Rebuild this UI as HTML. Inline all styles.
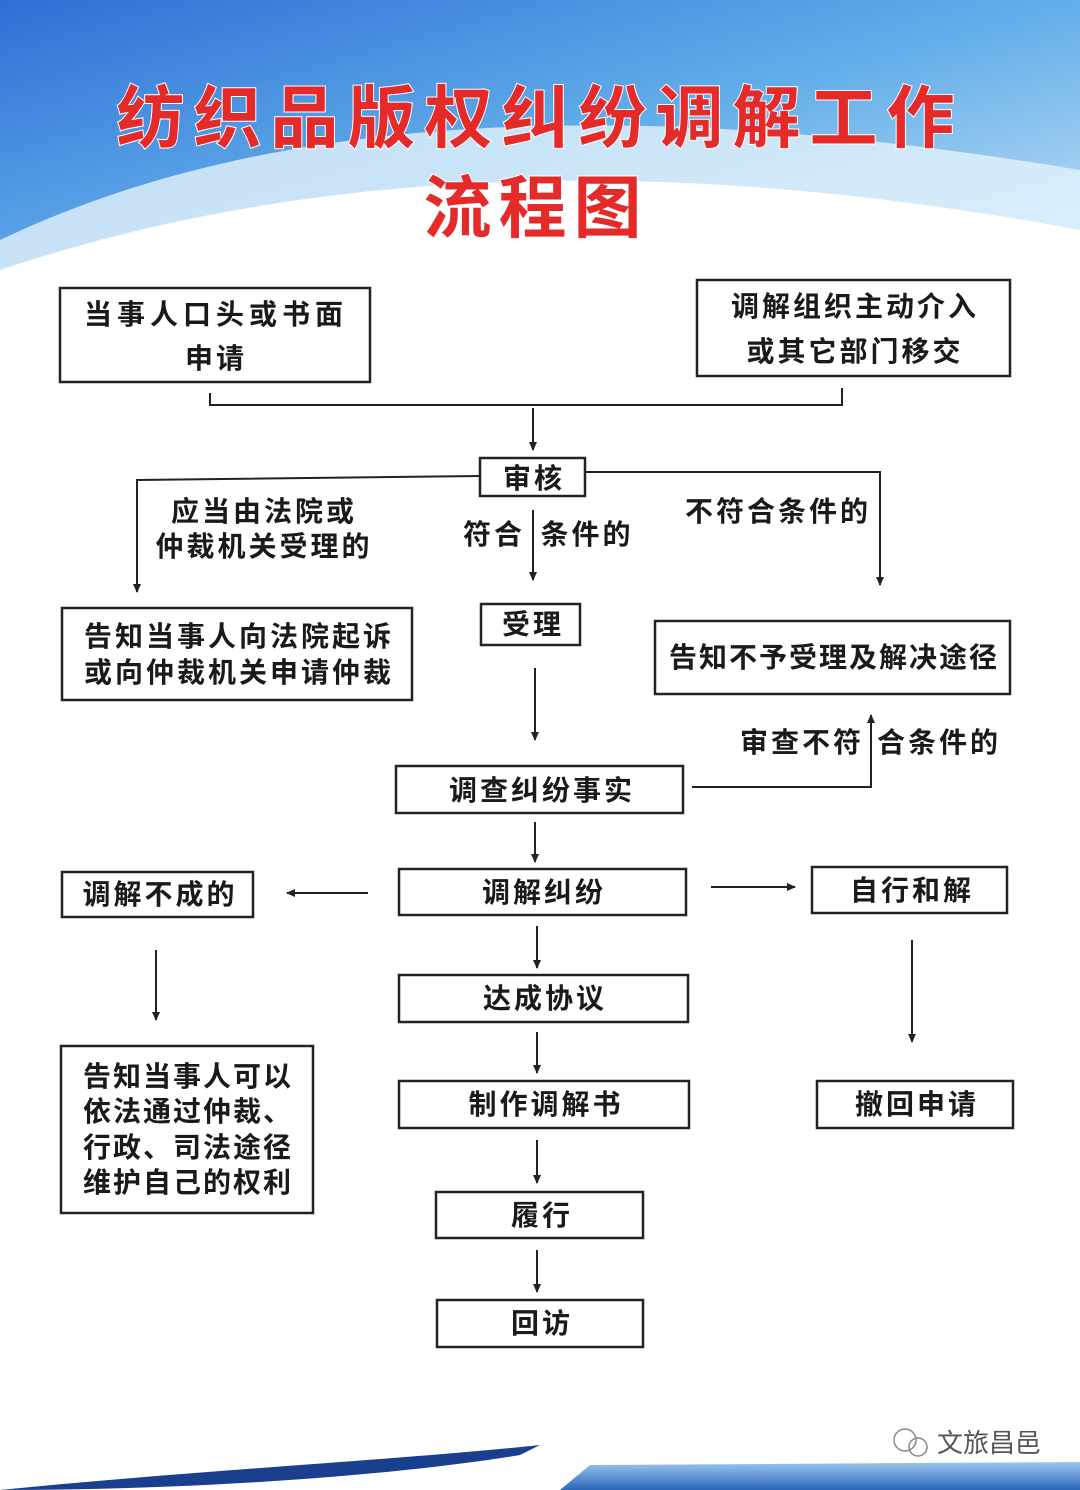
<!DOCTYPE html>
<html><head><meta charset="utf-8"><style>
html,body{margin:0;padding:0;width:1080px;height:1490px;overflow:hidden;background:#fff}
text{font-family:"Liberation Sans","Noto Sans CJK SC",sans-serif;}
</style></head><body>
<svg width="1080" height="1490" viewBox="0 0 1080 1490" xmlns="http://www.w3.org/2000/svg">
<defs>
<linearGradient id="bg" x1="0" y1="0" x2="1" y2="1">
<stop offset="0" stop-color="#2f6fd6"/><stop offset="0.5" stop-color="#62aee9"/><stop offset="1" stop-color="#cfe6f7"/>
</linearGradient>
<linearGradient id="bot" x1="0" y1="0" x2="0" y2="1">
<stop offset="0" stop-color="#9cc8ee"/><stop offset="1" stop-color="#2c66b8"/>
</linearGradient>
<marker id="ar" markerWidth="10" markerHeight="10" refX="8" refY="5" orient="auto" markerUnits="userSpaceOnUse">
<path d="M0,1 L9,5 L0,9 Z" fill="#222"/></marker>
</defs>
<rect width="1080" height="300" fill="url(#bg)"/>
<path d="M0,240 C250,120 600,90 1080,170 L1080,300 L0,300 Z" fill="#e4f2fb" opacity="0.8"/>
<path d="M0,270 C300,170 650,150 1080,230 L1080,300 L0,300 Z" fill="#fff"/>
<path d="M0,300 L1080,300 L1080,290 L0,290Z" fill="#fff"/>
<path d="M0,1490 C200,1470 400,1460 540,1445 L520,1455 C400,1475 200,1490 0,1490Z" fill="#1a3f8f"/>
<path d="M560,1490 L590,1465 L1080,1462 L1080,1490 Z" fill="url(#bot)"/>
<g font-weight="bold" fill="#e52a2a" stroke="#fff" stroke-width="2" paint-order="stroke" text-anchor="middle">
<text x="540" y="142" font-size="68" letter-spacing="9">纺织品版权纠纷调解工作</text>
<text x="536" y="232" font-size="68" letter-spacing="7">流程图</text>
</g>
<g fill="none" stroke="#222" stroke-width="2.5">
<rect x="60" y="288" width="310" height="94"/>
<rect x="697" y="280" width="313" height="96"/>
<rect x="480" y="458" width="105" height="38"/>
<rect x="62" y="608" width="350" height="92"/>
<rect x="481" y="604" width="99" height="41"/>
<rect x="655" y="621" width="355" height="73"/>
<rect x="396" y="766" width="287" height="47"/>
<rect x="62" y="872" width="191" height="45"/>
<rect x="399" y="869" width="287" height="46"/>
<rect x="812" y="867" width="195" height="46"/>
<rect x="399" y="975" width="289" height="47"/>
<rect x="61" y="1046" width="252" height="167"/>
<rect x="399" y="1081" width="290" height="47"/>
<rect x="817" y="1081" width="196" height="47"/>
<rect x="436" y="1192" width="207" height="46"/>
<rect x="437" y="1300" width="206" height="47"/>
</g>
<g fill="none" stroke="#222" stroke-width="2">
<path d="M210,393 V405 H842 V388"/>
<path d="M533,408 V450" marker-end="url(#ar)"/>
<path d="M480,476 L137,480 V592" marker-end="url(#ar)"/>
<path d="M585,472 H880 V585" marker-end="url(#ar)"/>
<path d="M533,510 V580" marker-end="url(#ar)"/>
<path d="M535,668 V740" marker-end="url(#ar)"/>
<path d="M692,787 H871 V715" marker-end="url(#ar)"/>
<path d="M535,822 V862" marker-end="url(#ar)"/>
<path d="M368,893 H287" marker-end="url(#ar)"/>
<path d="M711,887 H795" marker-end="url(#ar)"/>
<path d="M156,950 V1020" marker-end="url(#ar)"/>
<path d="M912,940 V1042" marker-end="url(#ar)"/>
<path d="M537,926 V968" marker-end="url(#ar)"/>
<path d="M537,1032 V1073" marker-end="url(#ar)"/>
<path d="M537,1140 V1183" marker-end="url(#ar)"/>
<path d="M537,1250 V1292" marker-end="url(#ar)"/>
</g>
<g font-size="28" font-weight="bold" fill="#1a1a1a" text-anchor="middle" letter-spacing="3">
<text x="216" y="324" letter-spacing="5">当事人口头或书面</text>
<text x="216" y="368">申请</text>
<text x="855" y="316">调解组织主动介入</text>
<text x="855" y="361">或其它部门移交</text>
<text x="534" y="488">审核</text>
<text x="264" y="521">应当由法院或</text>
<text x="264" y="556">仲裁机关受理的</text>
<text x="494" y="544">符合</text>
<text x="587" y="544">条件的</text>
<text x="778" y="521">不符合条件的</text>
<text x="239" y="646">告知当事人向法院起诉</text>
<text x="239" y="682">或向仲裁机关申请仲裁</text>
<text x="533" y="634">受理</text>
<text x="834" y="667" letter-spacing="2">告知不予受理及解决途径</text>
<text x="802" y="752">审查不符</text>
<text x="939" y="752">合条件的</text>
<text x="542" y="800">调查纠纷事实</text>
<text x="160" y="904">调解不成的</text>
<text x="544" y="902">调解纠纷</text>
<text x="912" y="900">自行和解</text>
<text x="545" y="1008">达成协议</text>
<text x="546" y="1114">制作调解书</text>
<text x="917" y="1114">撤回申请</text>
<text x="542" y="1225">履行</text>
<text x="542" y="1333">回访</text>
</g>
<g font-size="28" font-weight="bold" fill="#1a1a1a" letter-spacing="2">
<text x="83" y="1086">告知当事人可以</text>
<text x="83" y="1121">依法通过仲裁、</text>
<text x="83" y="1157">行政、司法途径</text>
<text x="83" y="1192">维护自己的权利</text>
</g>
<g fill="none" stroke="#888" stroke-width="1.5">
<circle cx="905" cy="1440" r="11"/><circle cx="918" cy="1447" r="9"/>
</g>
<text x="937" y="1452" font-size="26" fill="#555">文旅昌邑</text>
</svg>
</body></html>
